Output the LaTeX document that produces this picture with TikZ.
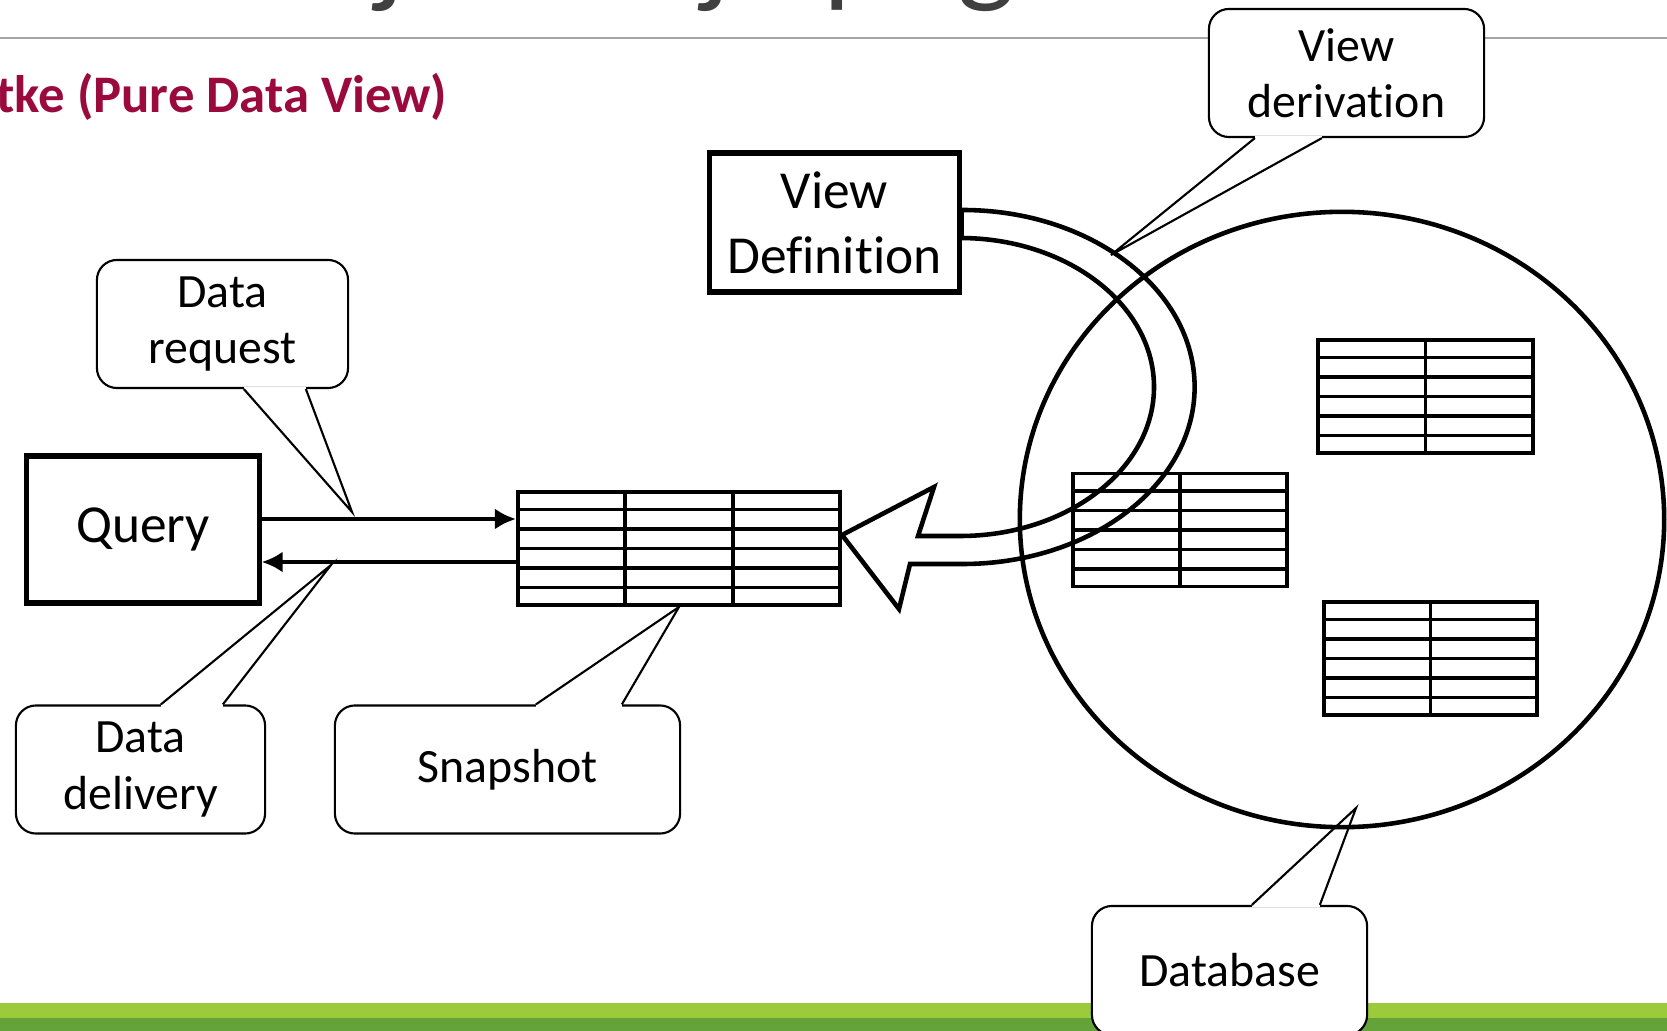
\documentclass[tikz,border=0pt]{standalone}
\usepackage{fontspec}
\setmainfont{Carlito}[Ligatures=CommonOff]
\usetikzlibrary{arrows.meta, shapes.geometric, positioning, calc}

\definecolor{headred}{RGB}{155,10,60}
\definecolor{headgray}{RGB}{64,64,64}
\definecolor{rulegray}{RGB}{166,166,166}
\definecolor{barlight}{RGB}{155,203,59}
\definecolor{bardark}{RGB}{100,162,58}

% inner lines of a 6-row table node
\newcommand{\tablelines}[2]{%
  \foreach \row in {1,...,5}
    \draw[gridline] ($(#1.north west)!\row/6!(#1.south west)$) -- ($(#1.north east)!\row/6!(#1.south east)$);
  \pgfmathtruncatemacro{\lastcol}{#2-1}
  \foreach \col in {1,...,\lastcol}
    \draw[gridline] ($(#1.north west)!\col/#2!(#1.north east)$) -- ($(#1.south west)!\col/#2!(#1.south east)$);
}

\begin{document}
\begin{tikzpicture}[x=0.01cm, y=-0.01cm,
  box/.style={draw, line width=1.45pt, align=center, inner sep=0pt, font=\fontsize{15.2}{18.5}\selectfont},
  bubble/.style={draw, fill=white, line width=0.6pt, rounded corners=5.7pt, align=center, inner sep=0pt, minimum height=1.28cm, font=\fontsize{13.6}{16}\selectfont},
  tailline/.style={line width=0.6pt},
  flow/.style={line width=1.4pt, -{Latex[length=6pt, width=6pt]}},
  tbl/.style={draw, line width=1.1pt, inner sep=0pt, minimum height=1.13cm},
  gridline/.style={line width=1.1pt},
  bandline/.style={line width=1.3pt}]
\useasboundingbox (0,0) rectangle (1667,1031);

% slide frame
\fill[barlight] (0,1003) rectangle (1667,1018);
\fill[bardark] (0,1018) rectangle (1667,1031);
\draw[rulegray, line width=0.6pt] (0,38) -- (1667,38);
\foreach \g/\x in {j/390, j/716, p/856, g/986}
  \node[anchor=base, text=headgray, font=\fontsize{35}{35}\selectfont, inner sep=0pt] (glyph\x) at (\x,-9) {\g};
\node[anchor=base east, text=headred, font=\fontsize{15}{18}\selectfont\bfseries, inner sep=0pt] (head) at (448,113) {tke (Pure Data View)};

% main parts
\node[box, minimum width=2.32cm, minimum height=1.47cm] (query) at (143,529.5) {Query};
\node[box, minimum width=2.49cm, minimum height=1.39cm] (viewdef) at (834.5,222.5) {View\\Definition};
\node[tbl, minimum width=3.22cm] (snap) at (679,548.5) {};
\tablelines{snap}{3}
\node[draw, ellipse, line width=1.3pt, inner sep=0pt, minimum width=6.44cm, minimum height=6.15cm] (db) at (1342,519.5) {};
\node[tbl, minimum width=2.15cm] (taba) at (1425.5,396.5) {};
\node[tbl, minimum width=2.14cm] (tabb) at (1180,530) {};
\node[tbl, minimum width=2.13cm] (tabc) at (1430.5,658.5) {};
\tablelines{taba}{2}
\tablelines{tabb}{2}
\tablelines{tabc}{2}

% request and delivery
\coordinate (req) at ([yshift=0.105cm]query.east);
\coordinate (dlv) at ([yshift=-0.325cm]query.east);
\draw[flow] (req) -- (req -| snap.west);
\draw[flow] (dlv -| snap.west) -- (dlv);

% derivation arrow
\coordinate (tip) at ([yshift=0.135cm]snap.east);
\draw[bandline] (viewdef.east) ++(0,-12.5) -- ++(1,0)
  arc[start angle=-90, end angle=90, x radius=232, y radius=177]
  -- (910,564) -- (899,609) -- (tip) -- (934,487) -- (918,536) -- (960,536)
  arc[start angle=90, end angle=-90, x radius=194, y radius=149]
  -- (viewdef.east |- 0,238) -- cycle;

% callouts
\node[bubble, minimum width=2.51cm] (dreq) at (222.5,324) {Data\\request};
\node[bubble, minimum width=2.49cm] (ddel) at (140.5,769.5) {Data\\delivery};
\node[bubble, minimum width=3.45cm] (snapnote) at (507.5,769.5) {Snapshot};
\node[bubble, minimum width=2.75cm] (vderiv) at (1346.5,73) {View\\derivation};
\node[bubble, minimum width=2.75cm, minimum height=1.29cm] (dbnote) at (1229.5,970.5) {Database};

\coordinate (reqtip) at (352,512);
\coordinate (dlvtip) at (331,565);
\coordinate (derivtip) at (1111,255);
\coordinate (dbtip) at (1356,808);

\draw[white, line width=1.2pt] ($(dreq.south west)+(148,0)$) -- ($(dreq.south west)+(210,0)$);
\draw[tailline] ($(dreq.south west)+(148,0)$) -- (reqtip) -- ($(dreq.south west)+(210,0)$);
\draw[white, line width=1.2pt] ($(ddel.north west)+(146,0)$) -- ($(ddel.north west)+(208,0)$);
\draw[tailline] ($(ddel.north west)+(146,0)$) -- (dlvtip) -- ($(ddel.north west)+(208,0)$);
\draw[white, line width=1.2pt] ($(snapnote.north west)+(202,0)$) -- ($(snapnote.north west)+(288,0)$);
\draw[tailline] ($(snapnote.north west)+(202,0)$) -- (snap.south) -- ($(snapnote.north west)+(288,0)$);
\draw[white, line width=1.2pt] ($(vderiv.south west)+(47,0)$) -- ($(vderiv.south west)+(114,0)$);
\draw[tailline] ($(vderiv.south west)+(47,0)$) -- (derivtip) -- ($(vderiv.south west)+(114,0)$);
\draw[white, line width=1.2pt] ($(dbnote.north west)+(161,0)$) -- ($(dbnote.north west)+(229,0)$);
\draw[tailline] ($(dbnote.north west)+(161,0)$) -- (dbtip) -- ($(dbnote.north west)+(229,0)$);
\end{tikzpicture}
\end{document}
